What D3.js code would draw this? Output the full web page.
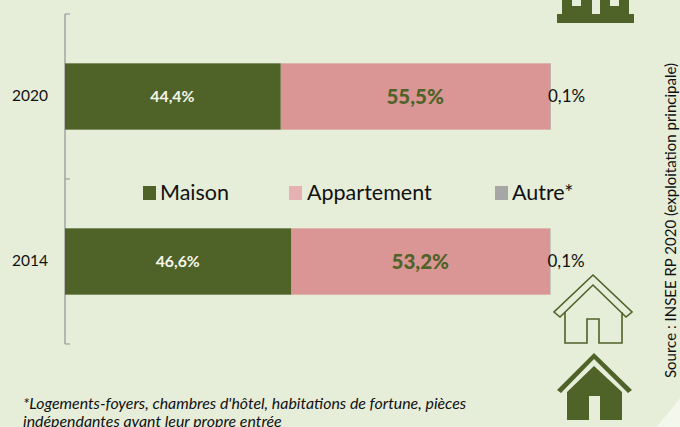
<!DOCTYPE html>
<html><head><meta charset="utf-8">
<script src="https://cdn.jsdelivr.net/npm/d3@7"></script>
<style>html,body{margin:0;padding:0;background:#fff}svg{display:block}text{font-family:Lato,"Open Sans",sans-serif}</style>
</head><body><svg id="c" width="680" height="427"></svg>
<script>
const categories = ["2020","2014"];
const seriesNames = ["Maison","Appartement","Autre*"];
const maison = [44.4,46.6];
const appartement = [55.5,53.2];
const autre = [0.1,0.1];
const colors = ["#4f6228","#d99694","#a6a6a6"];
const legendColors = ["#4f6228","#e6b1b3","#a6a6a6"];
const fmt = v => String(v.toFixed(1)).replace(".",",")+"%";
const W=680,H=427;
const svg=d3.select("#c");
svg.append("rect").attr("width",W).attr("height",H).attr("fill","#f4f7ec");
svg.append("path").attr("d","M0,0H680V398Q668,414 656,427H0Z").attr("fill","#e6edd8");

const x=d3.scaleLinear().domain([0,100]).range([65,551]);
const y=d3.scaleBand().domain(categories).range([14,344]).paddingInner(0).paddingOuter(0);
const table=categories.map((c,i)=>({c,vals:[maison[i],appartement[i],autre[i]]}));
const barH=y.bandwidth()*0.402;

const ax=svg.append("g").attr("transform","translate(65,0)").call(
  d3.axisLeft(y).tickSize(0).tickPadding(17));
ax.select(".domain").remove();
ax.selectAll("text").attr("font-size",15.5).attr("fill","#111");
const edges=[14,179,344];
svg.append("line").attr("x1",65).attr("x2",65).attr("y1",y.range()[0]).attr("y2",y.range()[1]).attr("stroke","#9a9a9a").attr("stroke-width",1.3);
svg.selectAll(".tk").data(edges).join("line").attr("x1",65).attr("x2",70).attr("y1",d=>d).attr("y2",d=>d).attr("stroke","#9a9a9a").attr("stroke-width",1.1);

table.forEach(row=>{
  let acc=0;
  const cy=y(row.c)+y.bandwidth()/2;
  row.vals.forEach((v,j)=>{
    svg.append("rect").attr("x",x(acc)).attr("y",cy-barH/2).attr("width",x(acc+v)-x(acc)).attr("height",barH).attr("fill",colors[j]);
    const mid=x(acc+v/2);
    if(j===0) svg.append("text").attr("x",mid-0.5).attr("y",cy+5.5).attr("text-anchor","middle").attr("font-size",15.8).attr("font-weight",700).attr("fill","#f4f6ec").text(fmt(v));
    if(j===1) svg.append("text").attr("x",mid-0.5).attr("y",cy+7.5).attr("text-anchor","middle").attr("font-size",20.5).attr("font-weight",900).attr("fill","#4f6228").text(fmt(v));
    if(j===2) svg.append("text").attr("x",x(acc+v)-3).attr("y",cy+5.5).attr("text-anchor","start").attr("font-size",17).attr("fill","#111").text(fmt(v));
    acc+=v;
  });
});

const legendX=[143,289,495],textX=[160,307,512];
seriesNames.forEach((n,i)=>{
  svg.append("rect").attr("x",legendX[i]).attr("y",186).attr("width",13).attr("height",14).attr("fill",legendColors[i]);
  svg.append("text").attr("x",textX[i]).attr("y",200).attr("font-size",21.5).attr("fill","#111").text(n);
});

const note=["*Logements-foyers, chambres d'hôtel, habitations de fortune, pièces","indépendantes ayant leur propre entrée"];
note.forEach((t,i)=>svg.append("text").attr("x",23).attr("y",409+i*18).attr("font-size",15.9).attr("font-style","italic").attr("fill","#111").text(t));
svg.append("text").attr("transform","translate(676,378) rotate(-90)").attr("font-size",15).attr("fill","#111").text("Source : INSEE RP 2020 (exploitation principale)");

const g="#4f6228";
svg.append("path").attr("fill",g).attr("fill-rule","evenodd").attr("d","M562,0H572V6H581V0H592V14H600V0H610V6H619V0H629V14H634V23H557V14H562Z");
svg.append("path").attr("fill","none").attr("stroke",g).attr("stroke-width",1.6).attr("d","M593,275L632,312L626,317L593,285L560,317L554,312Z M565,312V343H587V319H599V343H622V312");
svg.append("path").attr("fill",g).attr("d","M594,353L632,390L628,393L594,359L561,393L557,390Z");
svg.append("path").attr("fill",g).attr("d","M594,366L622,392V420H600V396H589V420H567V392Z");
</script></body></html>
